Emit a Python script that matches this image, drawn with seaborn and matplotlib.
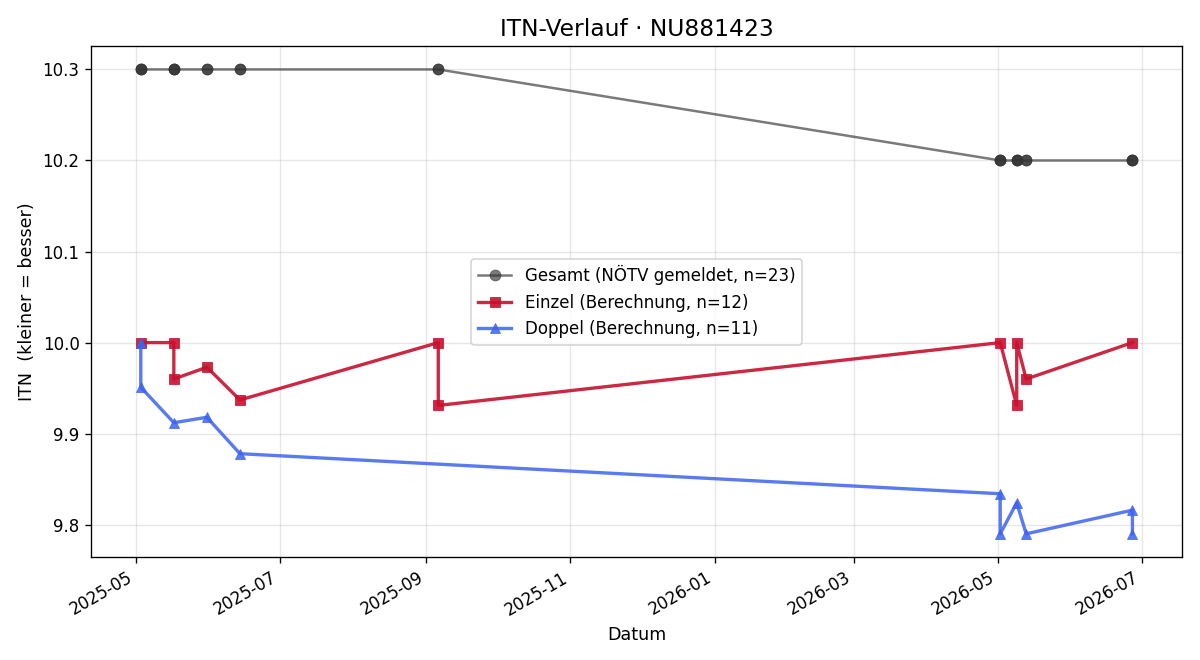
import matplotlib

matplotlib.use("Agg")
import matplotlib.pyplot as plt
import pandas as pd
import seaborn as sns


PLAYER_ID = "NU881423"

# Einzel matches (in plotting order)
EINZEL_DATES = [
    "2025-05-03", "2025-05-17", "2025-05-17", "2025-05-31", "2025-06-14",
    "2025-09-06", "2025-09-06", "2026-05-02", "2026-05-09", "2026-05-09",
    "2026-05-13", "2026-06-27",
]
EINZEL_ITN = [
    10.000, 10.000, 9.960, 9.973, 9.937,
    10.000, 9.931, 10.000, 9.931, 10.000,
    9.960, 10.000,
]

# Doppel matches (in plotting order)
DOPPEL_DATES = [
    "2025-05-03", "2025-05-03", "2025-05-17", "2025-05-31", "2025-06-14",
    "2026-05-02", "2026-05-02", "2026-05-09", "2026-05-13", "2026-06-27",
    "2026-06-27",
]
DOPPEL_ITN = [
    10.000, 9.951, 9.912, 9.918, 9.878,
    9.834, 9.790, 9.824, 9.790, 9.816,
    9.790,
]

# Gesamt ITN as reported by NÖTV, one entry per match
GESAMT_DATES = [
    "2025-05-03", "2025-05-03", "2025-05-03", "2025-05-17", "2025-05-17",
    "2025-05-17", "2025-05-31", "2025-05-31", "2025-06-14", "2025-06-14",
    "2025-09-06", "2025-09-06", "2026-05-02", "2026-05-02", "2026-05-02",
    "2026-05-09", "2026-05-09", "2026-05-09", "2026-05-13", "2026-05-13",
    "2026-06-27", "2026-06-27", "2026-06-27",
]
GESAMT_ITN = [10.3] * 12 + [10.2] * 11


def frame(dates, values) -> pd.DataFrame:
    return pd.DataFrame({"datum": pd.to_datetime(dates), "itn": values})


def main() -> None:
    fig, ax = plt.subplots(figsize=(10, 5.5), dpi=120)

    series = [
        (frame(GESAMT_DATES, GESAMT_ITN), f"Gesamt (NÖTV gemeldet, n={len(GESAMT_ITN)})",
         "#333333", "o", 1.5, 0.65),
        (frame(EINZEL_DATES, EINZEL_ITN), f"Einzel (Berechnung, n={len(EINZEL_ITN)})",
         "#c8102e", "s", 2.0, 0.9),
        (frame(DOPPEL_DATES, DOPPEL_ITN), f"Doppel (Berechnung, n={len(DOPPEL_ITN)})",
         "#3d63f0", "^", 2.0, 0.85),
    ]
    for data, label, color, marker, lw, alpha in series:
        sns.lineplot(
            data=data,
            x="datum",
            y="itn",
            sort=False,
            estimator=None,
            color=color,
            marker=marker,
            markersize=6.5,
            markeredgewidth=0.5,
            markeredgecolor=color,
            linewidth=lw,
            alpha=alpha,
            label=label,
            ax=ax,
        )

    ax.set_title(f"ITN-Verlauf · {PLAYER_ID}", fontsize=14)
    ax.set_xlabel("Datum", fontsize=10.5)
    ax.set_ylabel("ITN  (kleiner = besser)", fontsize=10.5)
    ax.tick_params(labelsize=10)
    ax.grid(True, alpha=0.3)
    ax.legend(loc="center", fontsize=10)
    fig.autofmt_xdate()
    fig.subplots_adjust(left=0.076, right=0.985, top=0.930, bottom=0.156)
    fig.savefig("out.png", dpi=120)
    plt.close(fig)


if __name__ == "__main__":
    main()
